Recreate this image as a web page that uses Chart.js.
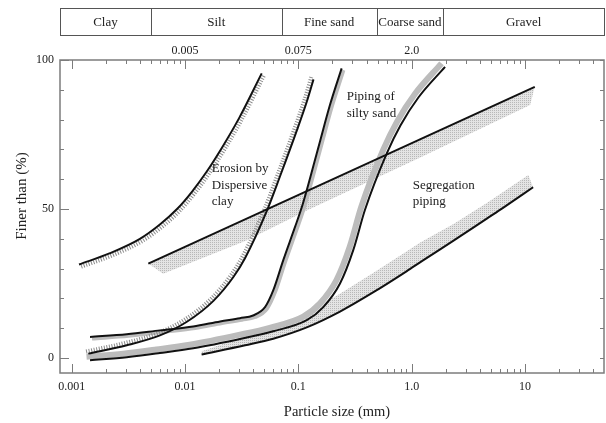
<!DOCTYPE html>
<html>
<head>
<meta charset="utf-8">
<script src="https://cdn.jsdelivr.net/npm/chart.js@4.4.0/dist/chart.umd.min.js"></script>
<style>
  html, body { margin: 0; padding: 0; background: #fff; }
</style>
</head>
<body>
<canvas id="chart" width="606" height="423"></canvas>
<script>
// --- Data ---
const soilClasses = ['Clay', 'Silt', 'Fine sand', 'Coarse sand', 'Gravel'];
const soilBounds = [0.005, 0.071, 0.49, 1.9];

const xRange = [0.000788, 49.8];
const yRange = [-5, 100];
const xTickValues = [0.001, 0.01, 0.1, 1, 10];
const xTickLabels = ['0.001', '0.01', '0.1', '1.0', '10'];
const topTickValues = [0.01, 0.1, 1];
const topTickLabels = ['0.005', '0.075', '2.0'];
const yTickValues = [0, 50, 100];
const yTickLabels = ['0', '50', '100'];

// erosion by dispersive clay: two boundaries, hatched on the inside
const dispersiveLeft = [[0.00116, 31.4], [0.00218, 35.2], [0.004, 40], [0.006, 44.8], [0.0085, 50],
  [0.0115, 55.8], [0.0155, 62.5], [0.0215, 71], [0.03, 80.5], [0.0475, 95.5]];
const dispersiveRight = [[0.0014, 1.5], [0.00306, 4.3], [0.006, 7.6], [0.0103, 12.1], [0.0178, 19.2],
  [0.0267, 27.2], [0.0339, 33.6], [0.0526, 49.3], [0.0689, 61], [0.0968, 76.3], [0.1186, 86], [0.136, 93.5]];

// straight boundary with shaded strip below it
const strainLine = [[0.00474, 31.7], [12.2, 91]];
const strainBand = [[0.00474, 31.7], [12.2, 91], [11.1, 84.9], [1.19, 67.3], [0.6, 62], [0.12, 49.6],
  [0.034, 39.3], [0.0064, 28.3]];

// piping of silty sand
const pipingLeft = [[0.00145, 7.1], [0.00306, 8], [0.006, 9.3], [0.0118, 10.6], [0.0204, 12.3], [0.0305, 13.4],
  [0.0399, 14.3], [0.0508, 17.1], [0.06, 22.7], [0.0735, 32.8], [0.0935, 44], [0.107, 50.5], [0.1186, 56.3],
  [0.155, 72.6], [0.19, 84.9], [0.241, 97.2]];
const pipingRight = [[0.00145, -0.7], [0.00306, 0.3], [0.006, 1.7], [0.0118, 3.3], [0.032, 6.6], [0.06, 9],
  [0.1186, 12.7], [0.166, 17.1], [0.233, 25], [0.305, 36.2], [0.386, 49.6], [0.603, 68.7], [0.8, 78.2],
  [1.15, 87.5], [1.97, 97.7]];

// segregation piping
const segregationLine = [[0.014, 1.2], [0.0339, 4.3], [0.06, 6.5], [0.1186, 10.3], [0.233, 15.6], [0.46, 22.1],
  [0.9, 29.1], [1.25, 32.7], [2.34, 39.4], [4.6, 46.8], [6.4, 50.4], [11.8, 57.3]];
const segregationBand = [[0.014, 2.3], [0.0339, 7.3], [0.06, 10.3], [0.1186, 15.3], [0.233, 21.6], [0.46, 28.6],
  [0.9, 35.8], [1.19, 38.8], [2.34, 45], [4.6, 52], [10.7, 61.4], [11.8, 57.3], [6.4, 50.4], [4.6, 46.8],
  [2.34, 39.4], [1.25, 32.7], [0.9, 29.1], [0.46, 22.1], [0.233, 15.6], [0.1186, 10.3], [0.06, 6.5], [0.0339, 4.3],
  [0.014, 1.2]];

const regionNotes = [
  {lines: ['Erosion by', 'Dispersive', 'clay'], at: [0.0172, 63.6]},
  {lines: ['Piping of', 'silty sand'], at: [0.267, 87.7]},
  {lines: ['Segregation', 'piping'], at: [1.02, 58]}
];

const serif = "'Liberation Serif', 'Times New Roman', serif";
Chart.defaults.font.family = serif;
Chart.defaults.color = '#222';

const canvas = document.getElementById('chart');
const ctx = canvas.getContext('2d');

// light dotted grey used for the wide strips
const pc = document.createElement('canvas');
pc.width = 2; pc.height = 2;
const pctx = pc.getContext('2d');
pctx.fillStyle = '#e4e4e4'; pctx.fillRect(0, 0, 2, 2);
pctx.fillStyle = '#b8b8b8'; pctx.fillRect(0, 0, 1, 1);
const stipple = ctx.createPattern(pc, 'repeat');

function pts(arr) { return arr.map(([x, y]) => ({x, y})); }

function curve(arr, extra) {
  return Object.assign({
    data: pts(arr), showLine: true, pointRadius: 0, borderColor: '#111', borderWidth: 2,
    cubicInterpolationMode: 'monotone', fill: false, order: 1
  }, extra);
}

function band(arr, color) {
  return {
    data: pts(arr), showLine: true, pointRadius: 0, borderWidth: 0, borderColor: 'rgba(0,0,0,0)',
    backgroundColor: color, fill: 'shape', tension: 0, order: 3
  };
}

// --- plugins ---
const shifter = {
  id: 'shifter',
  beforeDatasetDraw(chart, args) {
    const s = chart.data.datasets[args.index].shift;
    chart.ctx.save();
    if (s) chart.ctx.translate(s[0], s[1]);
  },
  afterDatasetDraw(chart) {
    chart.ctx.restore();
  }
};

const frameAndTicks = {
  id: 'frameAndTicks',
  afterDatasetsDraw(chart) {
    const {ctx, chartArea: a, scales: {x, y}} = chart;
    ctx.save();
    ctx.strokeStyle = '#7c7c7c';
    ctx.lineWidth = 1;
    const seg = (x1, y1, x2, y2) => { ctx.beginPath(); ctx.moveTo(x1, y1); ctx.lineTo(x2, y2); ctx.stroke(); };
    for (let e = -3; e <= 1; e++) {
      for (let m = 1; m <= 9; m++) {
        const v = m * Math.pow(10, e);
        if (v > x.max) continue;
        const px = Math.round(x.getPixelForValue(v)) + 0.5;
        const len = m === 1 ? 9 : 4;
        seg(px, a.bottom, px, a.bottom - len);
        seg(px, a.top, px, a.top + len);
      }
    }
    for (let v = 0; v <= 100; v += 10) {
      const py = Math.round(y.getPixelForValue(v)) + 0.5;
      seg(a.left, py, a.left + (v % 50 === 0 ? 9 : 4), py);
      seg(a.right, py, a.right - 4, py);
    }
    ctx.lineWidth = 1.5;
    ctx.strokeRect(a.left, a.top, a.right - a.left, a.bottom - a.top);
    ctx.restore();
  }
};

const textLayer = {
  id: 'textLayer',
  afterDraw(chart) {
    const {ctx, chartArea: a, scales: {x, y}} = chart;
    ctx.save();
    ctx.fillStyle = '#222';
    ctx.textBaseline = 'middle';

    // region names
    ctx.font = '13px ' + serif;
    ctx.textAlign = 'left';
    regionNotes.forEach(n => {
      const px = x.getPixelForValue(n.at[0]);
      const py = y.getPixelForValue(n.at[1]);
      n.lines.forEach((t, i) => ctx.fillText(t, px, py + i * 16.7));
    });

    // soil class strip above the plot
    const top = 8, bottom = 35;
    const edges = [a.left, ...soilBounds.map(v => x.getPixelForValue(v)), a.right];
    ctx.strokeStyle = '#555';
    ctx.lineWidth = 1;
    ctx.strokeRect(a.left + 0.5, top + 0.5, a.right - a.left, bottom - top);
    soilBounds.forEach(v => {
      const px = Math.round(x.getPixelForValue(v)) + 0.5;
      ctx.beginPath(); ctx.moveTo(px, top); ctx.lineTo(px, bottom); ctx.stroke();
    });
    ctx.textAlign = 'center';
    soilClasses.forEach((c, i) => ctx.fillText(c, (edges[i] + edges[i + 1]) / 2, (top + bottom) / 2 + 1));

    // axis titles
    ctx.font = '14.5px ' + serif;
    ctx.fillText('Particle size (mm)', (a.left + a.right) / 2 + 5, a.bottom + 39);
    ctx.translate(22, a.top + 136);
    ctx.rotate(-Math.PI / 2);
    ctx.font = '15px ' + serif;
    ctx.fillText('Finer than (%)', 0, 0);
    ctx.restore();
  }
};

const tickFont = {size: 12, family: serif};

new Chart(canvas, {
  type: 'scatter',
  data: {
    datasets: [
      curve(dispersiveLeft),
      curve(dispersiveRight),
      curve(strainLine, {cubicInterpolationMode: 'default', tension: 0}),
      curve(pipingLeft),
      curve(pipingRight),
      curve(segregationLine),
      curve(dispersiveLeft, {borderColor: '#8a8a8a', borderWidth: 4, borderDash: [1, 1.6], shift: [2.2, 2.2], order: 2}),
      curve(dispersiveRight, {borderColor: '#8a8a8a', borderWidth: 4, borderDash: [1, 1.6], shift: [-2.2, -2.2], order: 2}),
      curve(pipingLeft, {borderColor: '#bdbdbd', borderWidth: 3.5, shift: [2, 1.8], order: 2}),
      curve(pipingRight, {borderColor: '#bcbcbc', borderWidth: 6, shift: [-3.5, -3.5], order: 2}),
      band(strainBand, stipple),
      band(segregationBand, stipple)
    ]
  },
  options: {
    responsive: false,
    animation: false,
    devicePixelRatio: 1,
    layout: {padding: {left: 0, right: 2, top: 0, bottom: 0}},
    plugins: {legend: {display: false}, tooltip: {enabled: false}},
    scales: {
      x: {
        type: 'logarithmic', position: 'bottom', min: xRange[0], max: xRange[1], bounds: 'data',
        grid: {display: false, drawTicks: false}, border: {display: false},
        afterBuildTicks: s => { s.ticks = xTickValues.map(v => ({value: v})); },
        afterFit: s => { s.height = 50; },
        ticks: {autoSkip: false, maxRotation: 0, padding: 7, font: tickFont, callback: (v, i) => xTickLabels[i]}
      },
      x2: {
        type: 'logarithmic', position: 'top', min: xRange[0], max: xRange[1], bounds: 'data',
        grid: {display: false, drawTicks: false}, border: {display: false},
        afterBuildTicks: s => { s.ticks = topTickValues.map(v => ({value: v})); },
        afterFit: s => { s.height = 60; },
        ticks: {autoSkip: false, maxRotation: 0, padding: 2, font: tickFont, callback: (v, i) => topTickLabels[i]}
      },
      y: {
        type: 'linear', position: 'left', min: yRange[0], max: yRange[1],
        grid: {display: false, drawTicks: false}, border: {display: false},
        afterBuildTicks: s => { s.ticks = yTickValues.map(v => ({value: v})); },
        afterFit: s => { s.width = 60; },
        ticks: {padding: 6, font: tickFont, callback: (v, i) => yTickLabels[i]}
      }
    }
  },
  plugins: [shifter, frameAndTicks, textLayer]
});
</script>
</body>
</html>
